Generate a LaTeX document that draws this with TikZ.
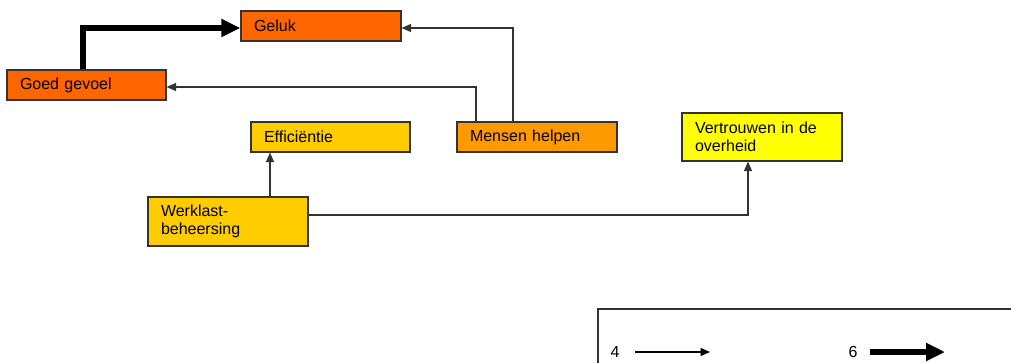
\documentclass[tikz,border=0pt]{standalone}
\usepackage{fontspec}
\setmainfont{Liberation Sans}
\usetikzlibrary{arrows.meta}
\definecolor{boxline}{HTML}{333333}
\definecolor{orangeA}{HTML}{FF6600}
\definecolor{orangeB}{HTML}{FF9900}
\definecolor{goldA}{HTML}{FFCC00}
\definecolor{yellowA}{HTML}{FFFF00}
\tikzset{
  concept/.style={draw=boxline, line width=1.1pt, rectangle, inner xsep=13pt,
    inner ysep=0pt, text width=134pt, align=left, minimum height=30pt,
    font=\fontsize{16}{18.5}\selectfont, text=black},
  weak/.style={draw=boxline, line width=1.2pt,
    -{Triangle[length=9.5pt,width=8pt]}},
  strong/.style={draw=black, line width=5.5pt,
    -{Triangle[length=19pt,width=17pt]}},
  legendtext/.style={font=\fontsize{16}{18}\selectfont, inner sep=0pt}
}
\begin{document}
\begin{tikzpicture}[x=1pt, y=-1pt]
  \useasboundingbox (0,0) rectangle (1011,363);

  % concept boxes
  \node[concept, fill=orangeA] (geluk) at (321,26) {Geluk};
  \node[concept, fill=orangeA, text width=133pt] (goed) at (86.5,85) {Goed gevoel};
  \node[concept, fill=goldA, text width=133pt] (eff) at (330.5,137) {Efficiëntie};
  \node[concept, fill=orangeB] (mensen) at (537,137) {Mensen helpen};
  \node[concept, fill=yellowA, minimum height=48pt] (vert) at (762,137) {Vertrouwen in de\\overheid};
  \node[concept, fill=goldA, minimum height=49pt] (werk) at (228,221.5) {Werklast-\\beheersing};

  % relations
  \draw[strong] ([xshift=-3.5pt]goed.north) |- ([yshift=-2pt]geluk.west);
  \draw[weak] ([xshift=-24pt]mensen.north) |- ([yshift=-2pt]geluk.east);
  \draw[weak] ([xshift=-61pt]mensen.north) |- ([yshift=-2pt]goed.east);
  \draw[weak] ([xshift=42pt]werk.north) -- ([xshift=42pt]werk.north |- eff.south);
  \draw[weak] ([yshift=6.5pt]werk.east) -| ([xshift=-14pt]vert.south);

  % legend
  \draw[draw=boxline, line width=1.1pt] (598,309) rectangle (1030,380);
  \node[legendtext] (l4) at (615,352) {4};
  \coordinate (l4a) at (635,352);
  \coordinate (l4b) at (710,352);
  \draw[weak, draw=black] (l4a) -- (l4b);
  \node[legendtext] (l6) at (853,352) {6};
  \coordinate (l6a) at (870,352);
  \coordinate (l6b) at (945,352);
  \draw[strong, line width=6pt] (l6a) -- (l6b);
\end{tikzpicture}
\end{document}
